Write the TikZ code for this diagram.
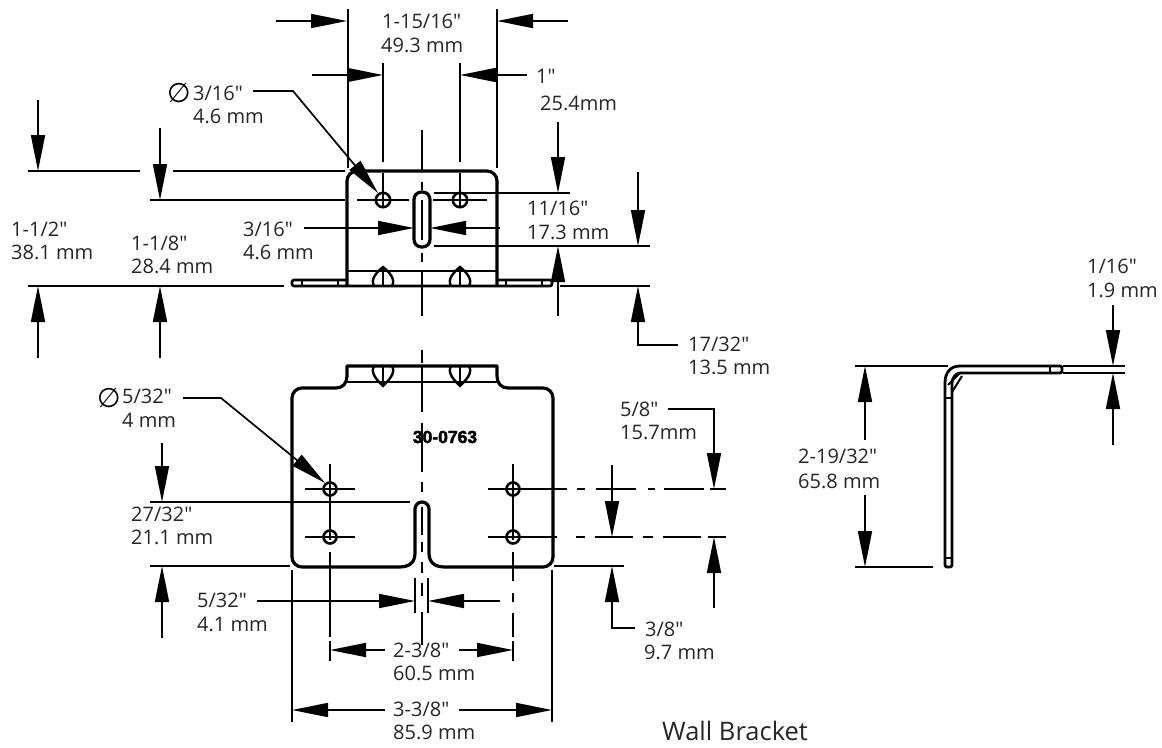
\documentclass[tikz,border=0pt]{standalone}
\usepackage{fontspec}
\setmainfont[Ligatures=TeXOff]{Open Sans}
\newfontfamily\dejavu{DejaVu Sans}
\newfontfamily\partfont[FakeBold=2.5]{Liberation Sans Bold}
\usetikzlibrary{arrows.meta}
\tikzset{
  dimline/.style={line width=1.7pt,draw=black},
  dimarrow/.style={line width=1.7pt,-{Triangle[length=36pt,width=14pt]}},
  thinline/.style={line width=1.5pt},
  outline/.style={line width=3.2pt,line join=round},
  lab/.style={anchor=base west,inner sep=0pt,font=\fontsize{20}{22}\selectfont,text=black!85},
}
\begin{document}
\begin{tikzpicture}[x=1pt,y=-1pt]
\useasboundingbox (0,0) rectangle (1162,747);
\fill[white] (0,0) rectangle (1162,747);

% ===== front view =====
% extension lines
\draw[dimline] (348,9)--(348,168) (497,9)--(497,168);
\draw[dimline] (383,63)--(383,162) (460,63)--(460,162);
\draw[dimline] (28,171)--(140,171) (173,171)--(345,171);
\draw[dimline] (150,200)--(345,200);
\draw[dimline] (28,286)--(284,286);
\draw[dimline] (434,193)--(570,193) (434,246)--(650,246) (560,286)--(650,286);
% centre lines
\draw[dimline] (422,130)--(422,171) (422,182)--(422,190) (422,200)--(422,240) (422,253)--(422,262) (422,272)--(422,316);
% body
\draw[outline] (347,286)--(347,181) arc[start angle=180,end angle=270,radius=10] -- (487,171) arc[start angle=-90,end angle=0,radius=10] -- (497,286);
\draw[thinline] (347,271)--(497,271);
\draw[line width=2.6pt,rounded corners=2pt] (347,280)--(292,280)--(292,286)--(552,286)--(552,280)--(497,280);
\draw[thinline] (302,280)--(302,286) (338,280)--(338,286) (506,280)--(506,286) (542,280)--(542,286);
% slot
\draw[outline,rounded corners=7.5pt] (414,192) rectangle (430,247);
\draw[dimline] (422,200)--(422,240);
% teardrops
\foreach \tx in {383,460}{
  \draw[line width=2.4pt] (\tx-9,286) .. controls (\tx-13,279) and (\tx-6,272) .. (\tx,267) .. controls (\tx+6,272) and (\tx+13,279) .. (\tx+9,286);
  \draw[thinline] (\tx,267)--(\tx,286);
}
% holes
\draw[dimline] (357,200)--(409,200) (433,200)--(487,200);
\draw[dimline] (383,173)--(383,208) (460,173)--(460,208);
\foreach \hx in {383,460}{
  \draw[line width=2.6pt] (\hx,200) circle[radius=7.2];
}
% front dimensions
\draw[dimarrow] (276,21)--(347,21);
\draw[dimarrow] (568,21)--(497,21);
\draw[dimarrow] (312,75)--(383,75);
\draw[dimarrow] (527,75)--(460,75);
\draw[dimarrow] (38,100)--(38,171);
\draw[dimarrow] (160,128)--(160,200);
\draw[dimarrow] (38,358)--(38,286);
\draw[dimarrow] (160,358)--(160,286);
\draw[dimarrow] (304,228)--(414,228);
\draw[dimarrow] (500,228)--(430,228);
\draw[dimarrow] (558,122)--(558,193);
\draw[dimarrow] (558,316)--(558,246);
\draw[dimarrow] (638,172)--(638,246);
\draw[dimarrow] (678,345)--(638,345)--(638,286);
\draw[dimarrow] (253,91)--(293,91)--(378,193);

% ===== back view =====
\draw[dimline] (422,350)--(422,363) (422,367)--(422,412) (422,423)--(422,472) (422,482)--(422,492) (422,507)--(422,535) (422,542)--(422,552) (422,562)--(422,573) (422,583)--(422,596) (422,612)--(422,645);
\draw[outline] (347,366)--(497,366)--(497,376) .. controls (497,383) and (501,388) .. (508,388) -- (543,388) arc[start angle=-90,end angle=0,radius=10] -- (553,557) arc[start angle=0,end angle=90,radius=10] -- (445,567) .. controls (434,567) and (429,562) .. (429,553) -- (429,509) arc[start angle=0,end angle=-180,radius=7] -- (415,553) .. controls (415,562) and (410,567) .. (399,567) -- (302,567) arc[start angle=90,end angle=180,radius=10] -- (292,398) arc[start angle=180,end angle=270,radius=10] -- (336,388) .. controls (343,388) and (347,383) .. (347,376) -- cycle;
\draw[thinline] (347,382)--(497,382);
\foreach \tx in {383,460}{
  \draw[line width=2.4pt] (\tx-9,366) .. controls (\tx-13,373) and (\tx-6,380) .. (\tx,386) .. controls (\tx+6,380) and (\tx+13,373) .. (\tx+9,366);
  \draw[thinline] (\tx,366)--(\tx,386);
}
% cross lines of the holes
\draw[dimline] (305,489)--(355,489) (305,537)--(355,537) (488,489)--(538,489) (488,537)--(538,537);
\draw[dimline] (330,464)--(330,540) (330,552)--(330,637) (330,641)--(330,661);
\draw[dimline] (513,464)--(513,540) (513,552)--(513,581) (513,593)--(513,602) (513,613)--(513,637) (513,641)--(513,661);
\foreach \hx/\hy in {330/489,330/537,513/489,513/537}{
  \draw[line width=2.6pt] (\hx,\hy) circle[radius=6.5];
}
\node[inner sep=0pt,font=\partfont\fontsize{17.5}{19}\selectfont] (partno) at (445,437) {30-0763};
% extension lines
\draw[dimline] (150,502)--(410,502);
\draw[dimline] (150,566)--(290,566);
\draw[dimline] (554,566)--(624,566);
\draw[dimline] (527,489)--(567,489) (577,489)--(585,489) (596,489)--(636,489) (648,489)--(655,489) (664,489)--(704,489) (710,489)--(726,489);
\draw[dimline] (527,537)--(557,537) (576,537)--(585,537) (595,537)--(633,537) (643,537)--(653,537) (663,537)--(701,537) (708,537)--(726,537);
\draw[dimline] (292,570)--(292,722) (552,570)--(552,722);
\draw[dimline] (415,578)--(415,613) (428,578)--(428,613);
% back dimensions
\draw[dimarrow] (183,398)--(221,398)--(325,483);
\draw[dimarrow] (162,443)--(162,502);
\draw[dimarrow] (162,638)--(162,566);
\draw[dimarrow] (257,601)--(415,601);
\draw[dimarrow] (500,601)--(428,601);
\draw[dimarrow] (385,650)--(330,650);
\draw[dimarrow] (459,650)--(513,650);
\draw[dimarrow] (385,710)--(292,710);
\draw[dimarrow] (459,710)--(552,710);
\draw[dimarrow] (668,409)--(714,409)--(714,489);
\draw[dimarrow] (612,465)--(612,537);
\draw[dimarrow] (714,608)--(714,537);
\draw[dimarrow] (635,628)--(612,628)--(612,566);

% ===== side view =====
\draw[line width=2.8pt,line join=round,rounded corners=2pt] (1062,373)--(962,373) .. controls (956,373) and (952,378) .. (952,385) -- (952,567) -- (945,567) -- (945,385) .. controls (945,373) and (950,366) .. (962,366) -- (1062,366) -- cycle;
\draw[thinline] (1050,366)--(1050,373) (945,558)--(952,558) (945,398)--(952,398);
\draw[line width=2pt] (948,385)--(960,373) (952,392)--(962,376);
\draw[dimline] (855,366)--(948,366) (855,567)--(933,567);
\draw[dimline] (1063,366)--(1125,366) (1063,373)--(1125,373);
\draw[dimarrow] (865,440)--(865,366);
\draw[dimarrow] (865,495)--(865,567);
\draw[dimarrow] (1113,305)--(1113,366);
\draw[dimarrow] (1113,445)--(1113,373);

% ===== labels =====
\node[lab] (t1) at (382,28) {1-15/16"};
\node[lab] (t2) at (381,52) {49.3 mm};
\node[lab] (t3) at (536,83) {1"};
\node[lab] (t4) at (540,110) {25.4mm};
\node[inner sep=0pt,font=\dejavu\fontsize{27}{29}\selectfont] (d1) at (179,93) {∅};
\node[lab] (t5) at (193,100) {3/16"};
\node[lab] (t6) at (193,123) {4.6 mm};
\node[lab] (t7) at (11,236) {1-1/2"};
\node[lab] (t8) at (11,259) {38.1 mm};
\node[lab] (t9) at (131,250) {1-1/8"};
\node[lab] (t10) at (131,273) {28.4 mm};
\node[lab] (t11) at (243,236) {3/16"};
\node[lab] (t12) at (243,259) {4.6 mm};
\node[lab] (t13) at (527,215) {11/16"};
\node[lab] (t14) at (527,239) {17.3 mm};
\node[lab] (t15) at (688,351) {17/32"};
\node[lab] (t16) at (688,374) {13.5 mm};
\node[inner sep=0pt,font=\dejavu\fontsize{27}{29}\selectfont] (d2) at (109,398) {∅};
\node[lab] (t17) at (122,403) {5/32"};
\node[lab] (t18) at (122,427) {4 mm};
\node[lab] (t19) at (131,521) {27/32"};
\node[lab] (t20) at (131,544) {21.1 mm};
\node[lab] (t21) at (620,416) {5/8"};
\node[lab] (t22) at (620,439) {15.7mm};
\node[lab] (t23) at (645,636) {3/8"};
\node[lab] (t24) at (644,659) {9.7 mm};
\node[lab] (t25) at (197,607) {5/32"};
\node[lab] (t26) at (197,631) {4.1 mm};
\node[lab] (t27) at (393,657) {2-3/8"};
\node[lab] (t28) at (393,680) {60.5 mm};
\node[lab] (t29) at (393,716) {3-3/8"};
\node[lab] (t30) at (393,739) {85.9 mm};
\node[lab] (t31) at (798,463) {2-19/32"};
\node[lab] (t32) at (798,488) {65.8 mm};
\node[lab] (t33) at (1087,273) {1/16"};
\node[lab] (t34) at (1087,297) {1.9 mm};
\node[lab,font=\fontsize{25.5}{28}\selectfont] (title) at (662,740) {Wall Bracket};
\end{tikzpicture}
\end{document}
